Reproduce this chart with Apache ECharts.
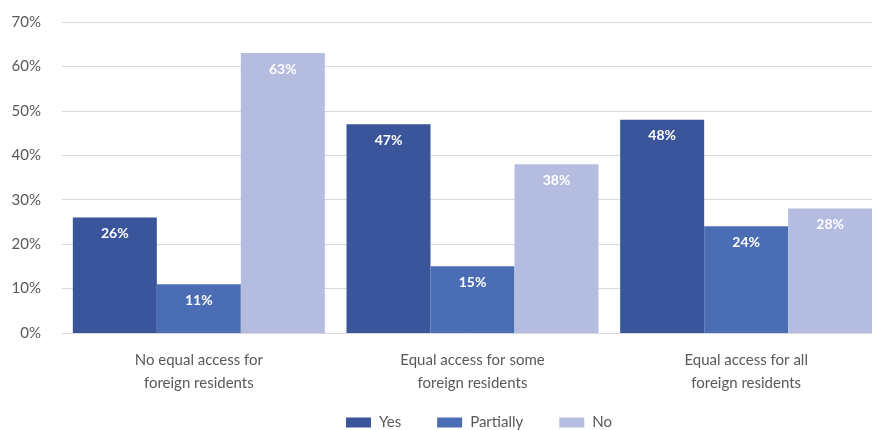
<!DOCTYPE html>
<html>
<head>
<meta charset="utf-8">
<script src="https://cdn.jsdelivr.net/npm/echarts@6/dist/echarts.min.js"></script>
<style>
  html, body { margin: 0; padding: 0; background: #fff; }
  #chart { width: 872px; height: 430px; }
</style>
</head>
<body>
<div id="chart"></div>
<script>
// Access categories and response shares (%)
const categories = [
  'No equal access for\nforeign residents',
  'Equal access for some\nforeign residents',
  'Equal access for all\nforeign residents'
];
const seriesNames = ['Yes', 'Partially', 'No'];
const yesValues = [26, 47, 48];
const partiallyValues = [11, 15, 24];
const noValues = [63, 38, 28];
const yTicks = [0, 10, 20, 30, 40, 50, 60, 70];

const colors = ['#3B559B', '#4B6DB3', '#B4BDE0'];
const fontFamily = 'Lato, "Open Sans", sans-serif';

function barSeries(name, data, color) {
  return {
    name: name,
    type: 'bar',
    data: data,
    barWidth: 84,
    barGap: '0%',
    itemStyle: { color: color },
    label: {
      show: true,
      position: 'insideTop',
      distance: 9,
      color: '#ffffff',
      fontFamily: fontFamily,
      fontWeight: 'bold',
      fontSize: 14,
      formatter: '{c}%'
    }
  };
}

const chart = echarts.init(document.getElementById('chart'), null, { renderer: 'canvas' });
chart.setOption({
  animation: false,
  color: colors,
  // plot area runs slightly past the right edge of the canvas
  grid: {
    left: 62, top: 22, width: 821, height: 311,
    containLabel: false,
    outerBoundsMode: 'none'
  },
  legend: {
    top: 415,
    left: 346,
    padding: 0,
    itemWidth: 25,
    itemHeight: 10,
    itemGap: 36,
    icon: 'rect',
    textStyle: {
      color: '#595959',
      fontFamily: fontFamily,
      fontSize: 15,
      padding: [0, 0, 0, 3]
    },
    data: seriesNames
  },
  xAxis: {
    type: 'category',
    data: categories,
    axisLine: { show: true, lineStyle: { color: '#d9d9d9' } },
    axisTick: { show: false },
    axisLabel: {
      color: '#595959',
      fontFamily: fontFamily,
      fontSize: 15,
      lineHeight: 23,
      margin: 16
    }
  },
  yAxis: {
    type: 'value',
    min: yTicks[0],
    max: yTicks[yTicks.length - 1],
    interval: 10,
    axisLine: { show: false },
    axisTick: { show: false },
    splitLine: { lineStyle: { color: '#d9d9d9' } },
    axisLabel: {
      color: '#595959',
      fontFamily: fontFamily,
      fontSize: 15,
      margin: 21,
      formatter: '{value}%'
    }
  },
  series: [
    barSeries(seriesNames[0], yesValues, colors[0]),
    barSeries(seriesNames[1], partiallyValues, colors[1]),
    barSeries(seriesNames[2], noValues, colors[2])
  ]
});
</script>
</body>
</html>
